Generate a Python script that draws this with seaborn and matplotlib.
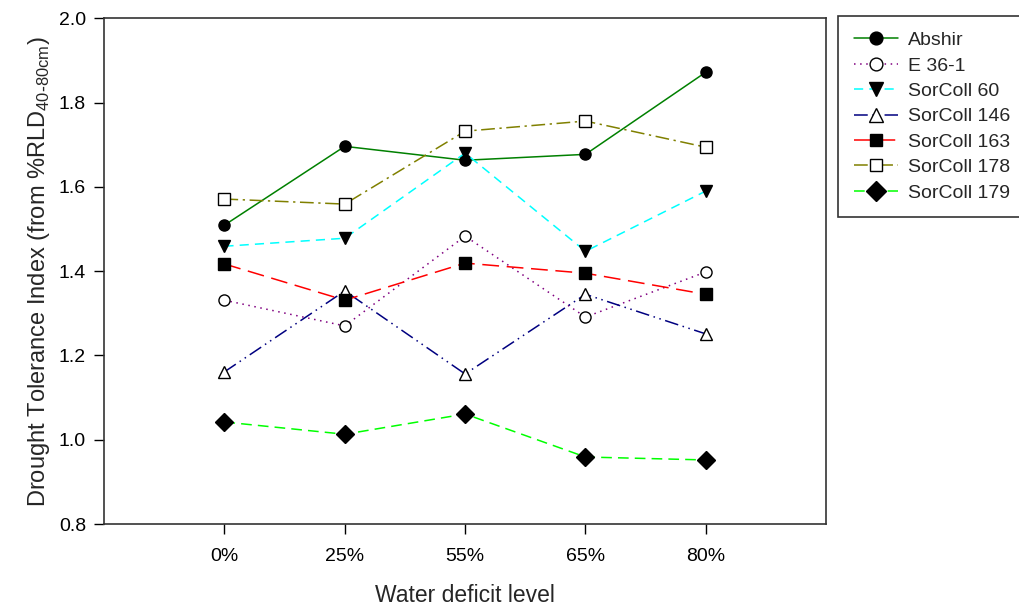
import matplotlib
matplotlib.use("Agg")
import matplotlib.pyplot as plt
import seaborn as sns
import pandas as pd

levels = ["0%", "25%", "55%", "65%", "80%"]
series_names = ["Abshir", "E 36-1", "SorColl 60", "SorColl 146", "SorColl 163", "SorColl 178", "SorColl 179"]
abshir = [1.509, 1.696, 1.663, 1.677, 1.872]
e36_1 = [1.331, 1.270, 1.483, 1.291, 1.398]
sorcoll60 = [1.459, 1.478, 1.680, 1.447, 1.590]
sorcoll146 = [1.161, 1.353, 1.156, 1.345, 1.251]
sorcoll163 = [1.417, 1.331, 1.419, 1.395, 1.345]
sorcoll178 = [1.571, 1.559, 1.732, 1.756, 1.694]
sorcoll179 = [1.042, 1.013, 1.061, 0.959, 0.952]
values = [abshir, e36_1, sorcoll60, sorcoll146, sorcoll163, sorcoll178, sorcoll179]

colors = ["#008000", "#800080", "#00FFFF", "#000080", "#FF0000", "#808000", "#00FF00"]
markers = ["o", "o", "v", "^", "s", "s", "D"]
faces = ["black", "white", "black", "white", "black", "white", "black"]
msizes = [8, 8, 9, 9, 8, 8, 9]
dash_patterns = [None, (1, 3), (6, 4), (9, 3, 1, 3, 1, 3), (11, 5), (9, 3, 1.5, 3), (7, 4)]

sns.set_style("ticks")
plt.rcParams["font.family"] = ["Liberation Sans", "DejaVu Sans"]

fig = plt.figure(figsize=(10.2, 6.07), dpi=100)
ax = fig.add_axes([0.102, 0.1367, 0.708, 0.8333])

rows = []
for name, vals in zip(series_names, values):
    for i, v in enumerate(vals):
        rows.append({"series": name, "x": i, "y": v})
df = pd.DataFrame(rows)

for k, name in enumerate(series_names):
    sub = df[df["series"] == name]
    kw = dict(x="x", y="y", data=sub, ax=ax, color=colors[k], marker=markers[k],
              markerfacecolor=faces[k], markeredgecolor="black", markeredgewidth=1.0,
              markersize=msizes[k], linewidth=1.1, label=name, errorbar=None)
    line = sns.lineplot(**kw).lines[-1]
    if dash_patterns[k] is not None:
        line.set_dashes(dash_patterns[k])

ax.set_xlim(-1, 5)
ax.set_ylim(0.8, 2.0)
ax.set_xticks(range(len(levels)))
ax.set_xticklabels(levels)
ax.set_yticks([0.8, 1.0, 1.2, 1.4, 1.6, 1.8, 2.0])
ax.set_yticklabels(["0.8", "1.0", "1.2", "1.4", "1.6", "1.8", "2.0"])
ax.tick_params(axis="both", direction="out", length=7, width=1, colors="black", labelsize=14)
ax.tick_params(axis="y", pad=6)
ax.tick_params(axis="x", pad=10)
for s in ax.spines.values():
    s.set_visible(True)
    s.set_color("#333333")
    s.set_linewidth(1.2)

ax.set_xlabel("Water deficit level", fontsize=16.5, labelpad=14)
ax.set_ylabel(r"Drought Tolerance Index (from %RLD$_{\mathregular{40\text{-}80cm}}$)", fontsize=17, labelpad=5)

leg = ax.legend(loc="upper left", bbox_to_anchor=(838 / 1020, 1 - 16 / 607),
                bbox_transform=fig.transFigure, frameon=True, fancybox=False,
                edgecolor="black", fontsize=14, handlelength=2.3, handletextpad=0.5,
                borderpad=0.8, labelspacing=0.4, borderaxespad=0, markerscale=1.15)
leg.get_frame().set_linewidth(1.2)

fig.savefig("out.png", dpi=100)
